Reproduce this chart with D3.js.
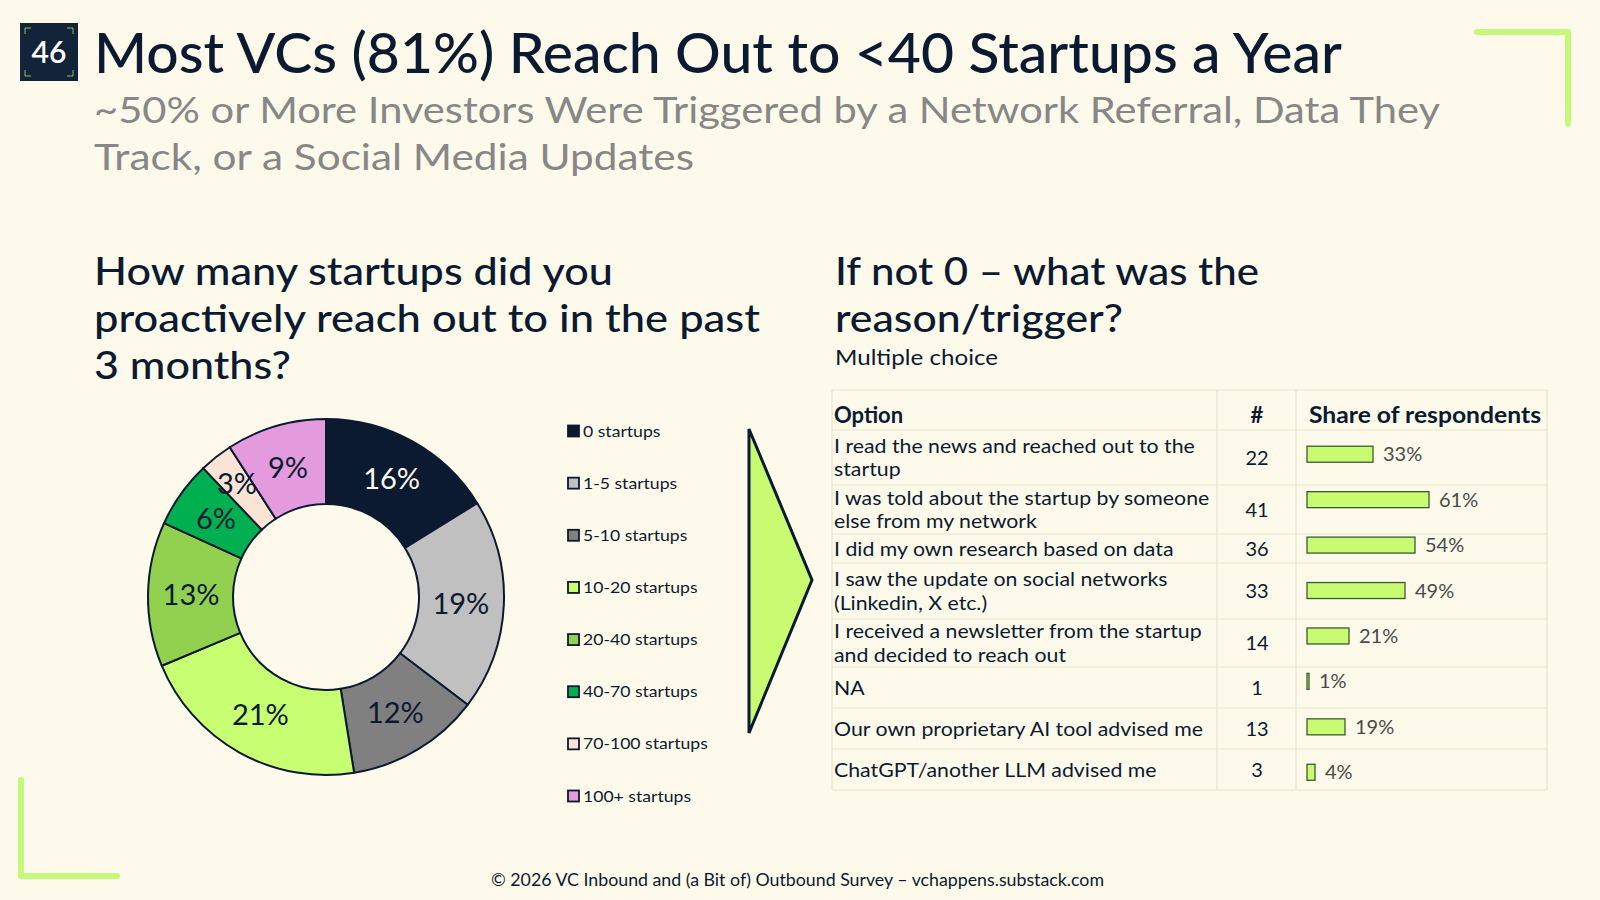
<!DOCTYPE html>
<html>
<head>
<meta charset="utf-8">
<script src="https://cdn.jsdelivr.net/npm/d3@7"></script>
<style>
  html,body{margin:0;padding:0;background:#fdfaeb;}
  svg{display:block;}
  text{font-family:"Lato","Inter",sans-serif;}
</style>
</head>
<body>
<svg id="chart" width="1600" height="900"></svg>
<script>
// ---------- DATA ----------
const badgeNumber = "46";
const titleText = "Most VCs (81%) Reach Out to <40 Startups a Year";
const subtitleLines = ["~50% or More Investors Were Triggered by a Network Referral, Data They",
                       "Track, or a Social Media Updates"];
const leftTitleLines = ["How many startups did you", "proactively reach out to in the past", "3 months?"];
const rightTitleLines = ["If not 0 – what was the", "reason/trigger?"];
const rightNote = "Multiple choice";

const donutCategories = ["0 startups","1-5 startups","5-10 startups","10-20 startups",
                         "20-40 startups","40-70 startups","70-100 startups","100+ startups"];
const donutValues = [16, 19, 12, 21, 13, 6, 3, 9];
const donutColors = ["#0b1a30","#c0c0c0","#808080","#c8ff72","#92d050","#00b050","#fbe3d6","#e39bdd"];

const tableHeaders = ["Option", "#", "Share of respondents"];
const optionLabels = [
  ["I read the news and reached out to the", "startup"],
  ["I was told about the startup by someone", "else from my network"],
  ["I did my own research based on data"],
  ["I saw the update on social networks", "(Linkedin, X etc.)"],
  ["I received a newsletter from the startup", "and decided to reach out"],
  ["NA"],
  ["Our own proprietary AI tool advised me"],
  ["ChatGPT/another LLM advised me"]
];
const optionCounts = [22, 41, 36, 33, 14, 1, 13, 3];
const optionShares = [33, 61, 54, 49, 21, 1, 19, 4];

const footerText = "© 2026 VC Inbound and (a Bit of) Outbound Survey – vchappens.substack.com";

// ---------- LAYOUT ----------
const NAVY = "#0b1a30";
const GREEN = "#c8fb72";
const svg = d3.select("#chart");

function fit(sel, w) {
  const node = sel.node();
  const len = node.getComputedTextLength();
  if (w && len > 0) sel.attr("textLength", w).attr("lengthAdjust", "spacingAndGlyphs");
  return sel;
}
function widen(sel, k) {
  const len = sel.node().getComputedTextLength();
  if (len > 0) sel.attr("textLength", len * k).attr("lengthAdjust", "spacingAndGlyphs");
  return sel;
}

svg.append("rect").attr("width",1600).attr("height",900).attr("fill","#fdfaeb");

// Corner decorations
svg.append("path").attr("d","M1477,32 H1568 V124").attr("fill","none")
  .attr("stroke","#c6f87a").attr("stroke-width",6).attr("stroke-linecap","round").attr("stroke-linejoin","round");
svg.append("path").attr("d","M21,780 V876 H117").attr("fill","none")
  .attr("stroke","#c6f87a").attr("stroke-width",6).attr("stroke-linecap","round").attr("stroke-linejoin","round");

// Badge
const badge = svg.append("g").attr("transform","translate(20,23)");
badge.append("rect").attr("width",58).attr("height",58).attr("fill","#13233a");
const bl = 6, bi = 5, bs = 58;
badge.append("path").attr("fill","none").attr("stroke","#8dbf63").attr("stroke-width",1)
  .attr("d",`M${bi},${bi+bl}V${bi}H${bi+bl} M${bs-bi-bl},${bi}H${bs-bi}V${bi+bl} M${bi},${bs-bi-bl}V${bs-bi}H${bi+bl} M${bs-bi-bl},${bs-bi}H${bs-bi}V${bs-bi-bl}`);
badge.append("text").attr("x",29).attr("y",40).attr("text-anchor","middle")
  .attr("fill","#ffffff").attr("font-size",30).attr("font-weight",600).text(badgeNumber);

// Titles
fit(svg.append("text").attr("x",94).attr("y",73).attr("fill",NAVY).attr("font-size",56)
  .attr("font-weight",500).text(titleText), 1248);
const subW = [1346, 600];
subtitleLines.forEach((t,i)=>{
  fit(svg.append("text").attr("x",94).attr("y",123+i*47).attr("fill","#878787")
    .attr("font-size",37).text(t), subW[i]);
});

const leftW = [519, 666, 197];
leftTitleLines.forEach((t,i)=>{
  fit(svg.append("text").attr("x",94).attr("y",285+i*47).attr("fill",NAVY)
    .attr("font-size",38).attr("font-weight",500).text(t), leftW[i]);
});
const rightW = [424, 288];
rightTitleLines.forEach((t,i)=>{
  fit(svg.append("text").attr("x",835).attr("y",285+i*47).attr("fill",NAVY)
    .attr("font-size",38).attr("font-weight",500).text(t), rightW[i]);
});
fit(svg.append("text").attr("x",835).attr("y",365).attr("fill",NAVY)
  .attr("font-size",22).text(rightNote), 163);

// ---------- DONUT ----------
const cx = 326, cy = 597, R = 178, r0 = 93;
const pie = d3.pie().sort(null).value(d=>d);
const arc = d3.arc().innerRadius(r0).outerRadius(R);
const arcs = pie(donutValues);
const dg = svg.append("g").attr("transform",`translate(${cx},${cy})`);
dg.selectAll("path.slice").data(arcs).join("path").attr("class","slice")
  .attr("d",arc).attr("fill",(d,i)=>donutColors[i])
  .attr("stroke",NAVY).attr("stroke-width",2).attr("stroke-linejoin","round");
dg.selectAll("text.lbl").data(arcs).join("text").attr("class","lbl")
  .attr("transform",d=>{
    const span = d.endAngle - d.startAngle;
    const rr = span < 0.3 ? 144 : 135;
    const a = (d.startAngle + d.endAngle)/2;
    return `translate(${rr*Math.sin(a)},${-rr*Math.cos(a)})`;
  })
  .attr("text-anchor","middle").attr("dy","0.36em")
  .attr("font-size",29)
  .attr("fill",(d,i)=> i===0 ? "#fdfaeb" : NAVY)
  .text(d=>d.data + "%");

// Legend
const legY = d3.scalePoint().domain(donutCategories).range([431, 796]);
const lg = svg.append("g");
donutCategories.forEach((c,i)=>{
  const y = legY(c);
  lg.append("rect").attr("x",568).attr("y",y-5.5).attr("width",11).attr("height",11)
    .attr("fill",donutColors[i]).attr("stroke",NAVY).attr("stroke-width",1.8);
  widen(lg.append("text").attr("x",583).attr("y",y+5.5).attr("font-size",16).attr("fill",NAVY).text(c), 1.1);
});

// Triangle arrow
svg.append("path").attr("d","M749,429 L812,580 L749,733 Z").attr("fill",GREEN)
  .attr("stroke",NAVY).attr("stroke-width",3).attr("stroke-linejoin","miter");

// ---------- TABLE ----------
const tX0 = 832, tX1 = 1217, tX2 = 1296, tX3 = 1547;
const headerTop = 390, headerH = 40;
const rowHeights = [55, 49, 29, 56, 48, 41, 41, 41];
const rowTops = [];
let acc = headerTop + headerH;
rowHeights.forEach(h=>{ rowTops.push(acc); acc += h; });
const tBottom = acc;
const grid = svg.append("g").attr("stroke","#e7e3cf").attr("stroke-width",1.2);
[headerTop, ...rowTops, tBottom].forEach(y=>{
  grid.append("line").attr("x1",tX0).attr("x2",tX3).attr("y1",y).attr("y2",y);
});
[tX0, tX1, tX2, tX3].forEach(x=>{
  grid.append("line").attr("x1",x).attr("x2",x).attr("y1",headerTop).attr("y2",tBottom);
});

// Headers
svg.append("text").attr("x",834).attr("y",423).attr("font-size",22).attr("font-weight",700)
  .attr("fill",NAVY).text(tableHeaders[0]);
svg.append("text").attr("x",1257).attr("y",423).attr("font-size",22).attr("font-weight",700)
  .attr("text-anchor","middle").attr("fill",NAVY).text(tableHeaders[1]);
fit(svg.append("text").attr("x",1309).attr("y",423).attr("font-size",22).attr("font-weight",700)
  .attr("fill",NAVY).text(tableHeaders[2]), 232);

// Row text
const lineH = 23.5;
optionLabels.forEach((lines,i)=>{
  const center = rowTops[i] + rowHeights[i]/2;
  const first = center - (lines.length-1)*lineH/2 + 7;
  lines.forEach((t,j)=>{
    widen(svg.append("text").attr("x",834).attr("y",first + j*lineH).attr("font-size",20)
      .attr("fill",NAVY).text(t), 1.064);
  });
  svg.append("text").attr("x",1257).attr("y",center+7).attr("font-size",20)
    .attr("text-anchor","middle").attr("fill",NAVY).text(optionCounts[i]);
});

// Bars
const xS = d3.scaleLinear().domain([0,100]).range([1307,1507]);
const yS = d3.scaleBand().domain(d3.range(optionShares.length)).range([431.5,795])
  .paddingInner(0.648).paddingOuter(0.324);
svg.append("g").selectAll("rect").data(optionShares).join("rect")
  .attr("x",xS(0)).attr("y",(d,i)=>yS(i)).attr("width",d=>Math.max(2,xS(d)-xS(0)))
  .attr("height",yS.bandwidth()).attr("fill",GREEN).attr("stroke","#3d5a2e").attr("stroke-width",1.3);
svg.append("g").selectAll("text").data(optionShares).join("text")
  .attr("x",d=>xS(d)+10).attr("y",(d,i)=>yS(i)+yS.bandwidth()/2+7)
  .attr("font-size",20).attr("fill","#4a4a4a").text(d=>d+"%");

// Footer
fit(svg.append("text").attr("x",491).attr("y",886).attr("font-size",17).attr("fill",NAVY)
  .text(footerText), 613);
</script>
</body>
</html>
